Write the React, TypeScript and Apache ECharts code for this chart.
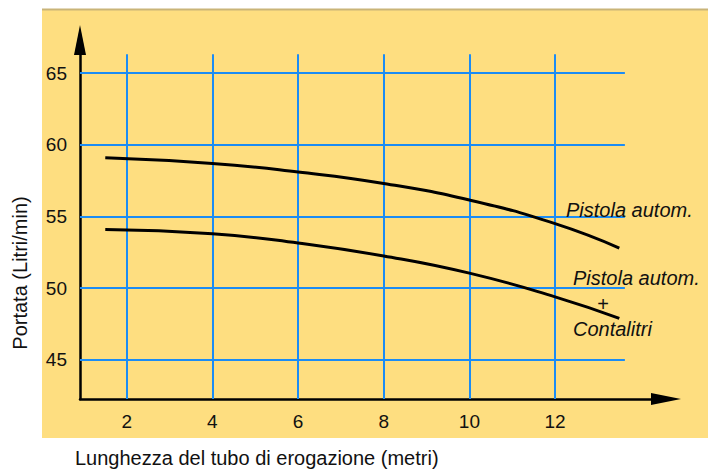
import React, { useEffect, useRef } from "react";
import * as echarts from "echarts";

// Tick values
const xTicks = [2, 4, 6, 8, 10, 12];
const yTicks = [45, 50, 55, 60, 65];

// Curve: Pistola autom.
const hoseLenA = [1.5, 4, 6, 8, 10, 12, 13.5];
const flowA = [59.1, 58.7, 58.1, 57.3, 56.15, 54.5, 52.8];

// Curve: Pistola autom. + Contalitri
const hoseLenB = [1.5, 4, 6, 8, 10, 12, 13.5];
const flowB = [54.1, 53.8, 53.15, 52.25, 51.05, 49.4, 47.9];

// Axis extents and grid-line extents
const xMin = 0.91;
const xMax = 14.59;
const yMin = 42.28;
const yMax = 67.3;
const gridXEnd = 13.63;
const gridYEnd = 66.3;

const FONT = '"Liberation Sans", Arial, Helvetica, sans-serif';

export default function App() {
  const ref = useRef<HTMLDivElement>(null);

  useEffect(() => {
    if (!ref.current) return;
    const chart = echarts.init(ref.current, null, { renderer: "svg" });

    const gridLines: any[] = [];
    xTicks.forEach((x) =>
      gridLines.push([{ coord: [x, yMin] }, { coord: [x, gridYEnd] }])
    );
    yTicks.forEach((y) =>
      gridLines.push([{ coord: [xMin, y] }, { coord: [gridXEnd, y] }])
    );

    const option: any = {
      animation: false,
      backgroundColor: "#ffffff",
      grid: {
        left: 80,
        right: 42,
        top: 40,
        bottom: 70,
        containLabel: false,
        outerBoundsMode: "none",
      },
      xAxis: {
        type: "value",
        min: xMin,
        max: xMax,
        axisLine: {
          show: true,
          symbol: ["none", "triangle"],
          symbolSize: [12, 30],
          lineStyle: { color: "#000", width: 2.5 },
        },
        axisTick: { show: false },
        splitLine: { show: false },
        axisLabel: {
          customValues: xTicks,
          color: "#111",
          fontSize: 19,
          fontFamily: FONT,
          margin: 13,
        },
      },
      yAxis: {
        type: "value",
        min: yMin,
        max: yMax,
        axisLine: {
          show: true,
          symbol: ["none", "triangle"],
          symbolSize: [12, 30],
          lineStyle: { color: "#000", width: 2.5 },
        },
        axisTick: { show: false },
        splitLine: { show: false },
        axisLabel: {
          customValues: yTicks,
          color: "#111",
          fontSize: 19,
          fontFamily: FONT,
          margin: 13,
        },
      },
      graphic: [
        {
          type: "rect",
          z: -10,
          shape: { x: 42, y: 9, width: 666, height: 429 },
          style: { fill: "#FEDE80" },
        },
        {
          type: "line",
          z: -9,
          shape: { x1: 42, y1: 9.5, x2: 708, y2: 9.5 },
          style: { stroke: "#c9b478", lineWidth: 2 },
        },
        {
          type: "text",
          z: 10,
          x: 566,
          y: 210,
          style: {
            text: "Pistola autom.",
            fontSize: 20,
            fontStyle: "italic",
            fontFamily: FONT,
            fill: "#111",
            align: "left",
            verticalAlign: "middle",
          },
        },
        {
          type: "text",
          z: 10,
          x: 573,
          y: 278,
          style: {
            text: "Pistola autom.",
            fontSize: 20,
            fontStyle: "italic",
            fontFamily: FONT,
            fill: "#111",
            align: "left",
            verticalAlign: "middle",
          },
        },
        {
          type: "text",
          z: 10,
          x: 603,
          y: 304,
          style: {
            text: "+",
            fontSize: 20,
            fontFamily: FONT,
            fill: "#111",
            align: "center",
            verticalAlign: "middle",
          },
        },
        {
          type: "text",
          z: 10,
          x: 573,
          y: 329,
          style: {
            text: "Contalitri",
            fontSize: 20,
            fontStyle: "italic",
            fontFamily: FONT,
            fill: "#111",
            align: "left",
            verticalAlign: "middle",
          },
        },
        {
          type: "text",
          z: 10,
          x: 75,
          y: 458,
          style: {
            text: "Lunghezza del tubo di erogazione (metri)",
            fontSize: 20,
            fontFamily: FONT,
            fill: "#111",
            align: "left",
            verticalAlign: "middle",
          },
        },
        {
          type: "text",
          z: 10,
          x: 20,
          y: 273,
          rotation: Math.PI / 2,
          style: {
            text: "Portata (Litri/min)",
            fontSize: 20,
            fontFamily: FONT,
            fill: "#111",
            align: "center",
            verticalAlign: "middle",
          },
        },
      ],
      series: [
        {
          type: "line",
          data: [],
          z: 1,
          silent: true,
          markLine: {
            z: 1,
            silent: true,
            symbol: ["none", "none"],
            label: { show: false },
            lineStyle: { color: "#1b8cf5", width: 2, type: "solid" },
            emphasis: { disabled: true },
            data: gridLines,
          },
        },
        {
          type: "line",
          z: 3,
          data: hoseLenA.map((x, i) => [x, flowA[i]]),
          smooth: 0.5,
          showSymbol: false,
          symbol: "none",
          lineStyle: { color: "#000", width: 3, cap: "butt" },
        },
        {
          type: "line",
          z: 3,
          data: hoseLenB.map((x, i) => [x, flowB[i]]),
          smooth: 0.5,
          showSymbol: false,
          symbol: "none",
          lineStyle: { color: "#000", width: 3, cap: "butt" },
        },
      ],
    };

    chart.setOption(option);
    return () => chart.dispose();
  }, []);

  return (
    <div
      ref={ref}
      style={{ position: "absolute", left: 0, top: 0, width: 708, height: 469 }}
    />
  );
}
